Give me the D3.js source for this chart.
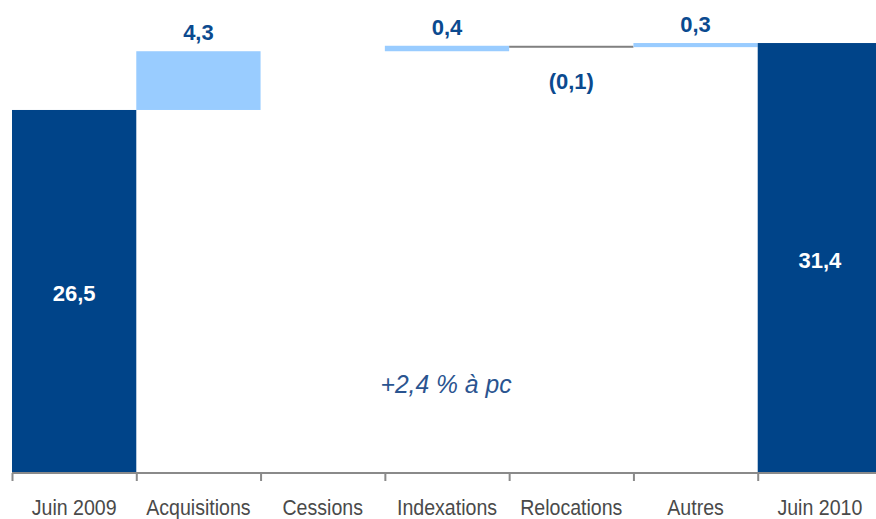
<!DOCTYPE html>
<html>
<head>
<meta charset="utf-8">
<script src="https://cdn.jsdelivr.net/npm/d3@7"></script>
<style>
  html, body { margin: 0; padding: 0; background: #fff; }
  svg { display: block; }
</style>
</head>
<body>
<svg id="chart" width="876" height="519"></svg>
<script>
// Loyers : bridge Juin 2009 -> Juin 2010 (M€)
const categories = ["Juin 2009", "Acquisitions", "Cessions", "Indexations", "Relocations", "Autres", "Juin 2010"];
const kinds      = ["total", "delta", "delta", "delta", "delta", "delta", "total"];
const values     = [26.5, 4.3, 0, 0.4, -0.1, 0.3, 31.4];
const valueLabels = ["26,5", "4,3", "", "0,4", "(0,1)", "0,3", "31,4"];
const note = "+2,4 % à pc";

const darkBlue = "#004489";
const lightBlue = "#99CCFF";
const labelBlue = "#0B4A8F";

const svg = d3.select("#chart");

const x = d3.scaleBand().domain(categories).range([12, 882]).padding(0);
const y = d3.scaleLinear().domain([0, 34.55]).range([472, 0]);

// running cumulative for the floating steps
let run = 0;
const bars = categories.map((c, i) => {
  let lo, hi;
  if (kinds[i] === "total") {
    lo = 0; hi = values[i]; run = values[i];
  } else {
    const start = run;
    run = start + values[i];
    lo = Math.min(start, run); hi = Math.max(start, run);
  }
  return { cat: c, kind: kinds[i], v: values[i], lo, hi, label: valueLabels[i] };
});

// bars
svg.append("g").selectAll("rect")
  .data(bars.filter(d => d.v !== 0))
  .join("rect")
  .attr("x", d => x(d.cat))
  .attr("width", x.bandwidth())
  .attr("y", d => y(d.hi))
  .attr("height", d => Math.max(y(d.lo) - y(d.hi), 2))
  .attr("fill", d => d.kind === "total" ? darkBlue : (d.v < 0 ? "#808080" : lightBlue));

// axis line and boundary ticks
const axisG = svg.append("g");
axisG.append("line")
  .attr("x1", 12).attr("x2", 876)
  .attr("y1", 473).attr("y2", 473)
  .attr("stroke", "#8a8a8a").attr("stroke-width", 2);
axisG.selectAll("line.tick")
  .data(categories)
  .join("line")
  .attr("class", "tick")
  .attr("x1", d => x(d) + 0.5).attr("x2", d => x(d) + 0.5)
  .attr("y1", 473).attr("y2", 481)
  .attr("stroke", "#8a8a8a").attr("stroke-width", 2);

// category labels (condensed)
axisG.selectAll("text")
  .data(categories)
  .join("text")
  .attr("transform", d => `translate(${x(d) + x.bandwidth() / 2},515) scale(0.89,1)`)
  .attr("text-anchor", "middle")
  .attr("font-family", "'Liberation Sans', Arial, sans-serif")
  .attr("font-size", 22)
  .attr("fill", "#4a4a4a")
  .text(d => d);

// value labels
svg.append("g").selectAll("text")
  .data(bars.filter(d => d.label))
  .join("text")
  .attr("x", d => x(d.cat) + x.bandwidth() / 2)
  .attr("y", d => {
    if (d.kind === "total") return y(d.hi / 2) + 10;
    if (d.v < 0) return y(d.lo) + 42;
    return y(d.hi) - 11;
  })
  .attr("text-anchor", "middle")
  .attr("font-family", "'Liberation Sans', Arial, sans-serif")
  .attr("font-weight", "bold")
  .attr("font-size", 22)
  .attr("fill", d => d.kind === "total" ? "#ffffff" : labelBlue)
  .text(d => d.label);

// growth note
svg.append("text")
  .attr("transform", "translate(446,393) scale(0.95,1)")
  .attr("text-anchor", "middle")
  .attr("font-family", "'Liberation Sans', Arial, sans-serif")
  .attr("font-style", "italic")
  .attr("font-size", 26)
  .attr("fill", "#2A5490")
  .text(note);
</script>
</body>
</html>
